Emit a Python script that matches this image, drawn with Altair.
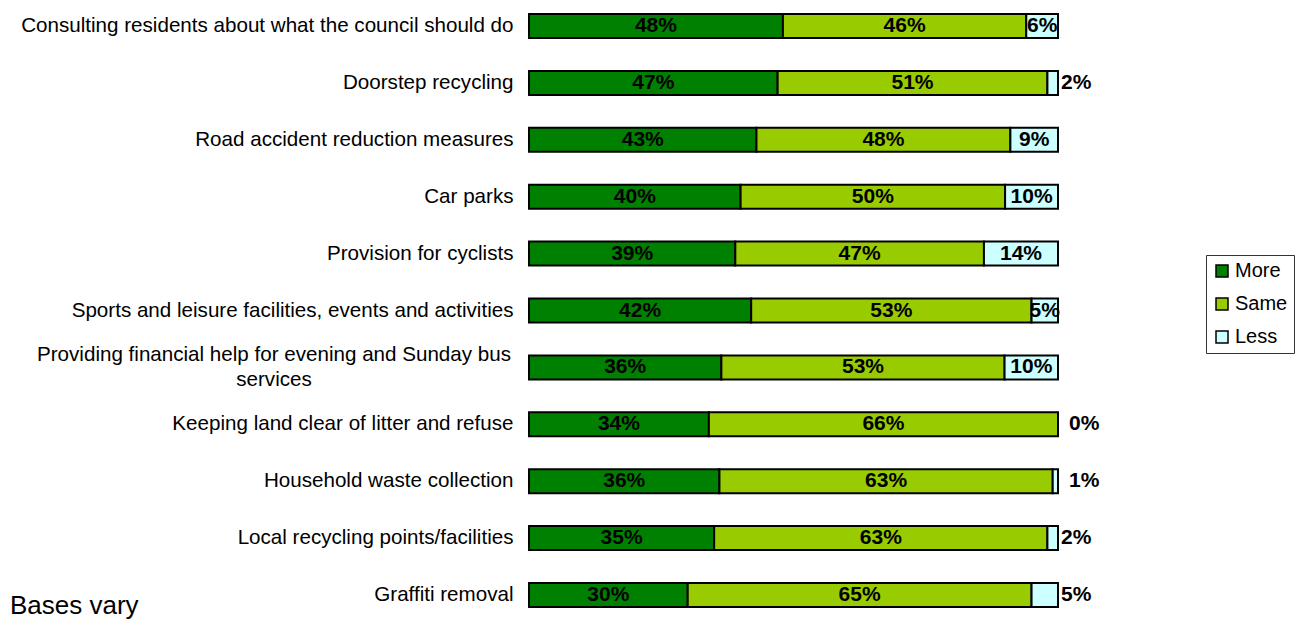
import altair as alt
import pandas as pd

categories = [
    "Consulting residents about what the council should do",
    "Doorstep recycling",
    "Road accident reduction measures",
    "Car parks",
    "Provision for cyclists",
    "Sports and leisure facilities, events and activities",
    "Providing financial help for evening and Sunday bus\nservices",
    "Keeping land clear of litter and refuse",
    "Household waste collection",
    "Local recycling points/facilities",
    "Graffiti removal",
]
more = [48, 47, 43, 40, 39, 42, 36, 34, 36, 35, 30]
same = [46, 51, 48, 50, 47, 53, 53, 66, 63, 63, 65]
less = [6, 2, 9, 10, 14, 5, 10, 0, 1, 2, 5]
less_label_inside = [True, False, True, True, True, True, True, False, False, False, False]
segments = ["More", "Same", "Less"]
colors = ["#008000", "#99CC00", "#CCFFFF"]
footnote = "Bases vary"

rows = []
for i, c in enumerate(categories):
    for j, (s, vals) in enumerate(zip(segments, [more, same, less])):
        if s == "Less":
            place = "in" if less_label_inside[i] else "out"
        else:
            place = "in"
        rows.append({"category": c, "segment": s, "value": vals[i], "order": j,
                     "label": f"{vals[i]}%", "place": place})
df = pd.DataFrame(rows)

FONT = "Liberation Sans"

base = alt.Chart(df).transform_joinaggregate(
    total="sum(value)", groupby=["category"]
).transform_window(
    cum="sum(value)", groupby=["category"], sort=[alt.SortField("order")], frame=[None, 0]
).transform_calculate(
    x_start="(datum.cum - datum.value) / datum.total",
    x_end="datum.cum / datum.total",
    mid="(2 * datum.cum - datum.value) / (2 * datum.total)",
)

yenc = alt.Y(
    "category:N",
    sort=categories,
    scale=alt.Scale(paddingInner=0.578, paddingOuter=0.105),
    axis=alt.Axis(
        title=None, domain=False, ticks=False, grid=False,
        labelFontSize=20.6, labelColor="black", labelFont=FONT,
        labelPadding=16, labelLimit=0,
        labelExpr="indexof(datum.label, '\\n') >= 0 ? '' : datum.label",
    ),
)
xscale = alt.Scale(domain=[0, 1], nice=False, zero=True)

bars = base.mark_bar(stroke="black", strokeWidth=2).encode(
    y=yenc,
    x=alt.X("x_start:Q", scale=xscale, axis=None),
    x2="x_end:Q",
    color=alt.Color(
        "segment:N",
        scale=alt.Scale(domain=segments, range=colors),
        legend=alt.Legend(
            title=None, orient="none", legendX=677, legendY=247,
            symbolType="square", symbolSize=144, symbolStrokeColor="black",
            symbolStrokeWidth=1.5, symbolOpacity=1,
            labelFontSize=20, labelFont=FONT, labelColor="black", labelOffset=3,
            rowPadding=13, padding=6, strokeColor="#333333",
        ),
    ),
)

TXT = dict(fontSize=21, fontWeight="bold", font=FONT, color="black", baseline="middle")

inside = base.transform_filter("datum.place == 'in'").mark_text(**TXT).encode(
    y=alt.Y("category:N", sort=categories),
    x=alt.X("mid:Q", scale=xscale),
    text="label:N",
)

outside_near = base.transform_filter("datum.place == 'out' && datum.value >= 2").mark_text(
    align="left", dx=3, **TXT
).encode(
    y=alt.Y("category:N", sort=categories),
    x=alt.X("x_end:Q", scale=xscale),
    text="label:N",
)

outside_far = base.transform_filter("datum.place == 'out' && datum.value < 2").mark_text(
    align="left", dx=11, **TXT
).encode(
    y=alt.Y("category:N", sort=categories),
    x=alt.X("x_end:Q", scale=xscale),
    text="label:N",
)

wrapped = pd.DataFrame({"category": [c for c in categories if "\n" in c]})
wrapped_label = alt.Chart(wrapped).mark_text(
    fontSize=20.6, font=FONT, color="black", align="center", baseline="middle",
    lineBreak="\n", lineHeight=25, dy=-12.5,
).encode(
    y=alt.Y("category:N", sort=categories),
    x=alt.value(-255),
    text="category:N",
)

note = alt.Chart(pd.DataFrame({"t": [footnote]})).mark_text(
    fontSize=26, font=FONT, color="black", align="left", baseline="alphabetic"
).encode(
    x=alt.value(-519),
    y=alt.value(606),
    text="t:N",
)

chart = alt.layer(bars, inside, outside_near, outside_far, wrapped_label, note).properties(
    width=529,
    height=605,
    autosize=alt.AutoSizeParams(type="none"),
    padding={"left": 521, "top": 0, "right": 238, "bottom": 7},
).configure_view(stroke=None)

chart.save("out.html", embed_options={"renderer": "svg", "actions": False})
